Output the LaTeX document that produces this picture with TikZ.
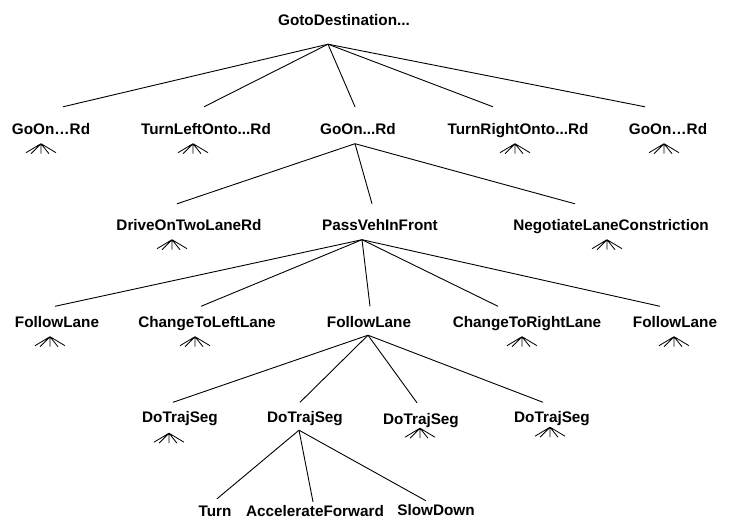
\documentclass[tikz,border=0pt]{standalone}
\usepackage{fontspec}
\setmainfont{Liberation Sans}
\usetikzlibrary{positioning}

\tikzset{
    task/.style={inner sep=0pt, text height=20pt, text depth=9pt, anchor=base,
        font=\fontsize{15.3}{18}\selectfont\bfseries},
    leaf/.style={task, text depth=0.5pt},
    link/.style={line width=0.9pt},
    fan/.pic={
        \draw[line width=0.8pt] (0,0) -- (-15,9) (0,0) -- (-10,10) (0,0) -- (0,10)
            (0,0) -- (8,10) (0,0) -- (15,9);
    }
}

\begin{document}
\begin{tikzpicture}[x=1pt, y=-1pt]
    \useasboundingbox (0,0) rectangle (730,519);

    % top goal
    \node[task] (goto) at (344,25.5) {GotoDestination...};

    % roads
    \node[task] (gon1) at (51,134.5)  {GoOn\ldots Rd};
    \node[task] (tlft) at (206,134.5) {TurnLeftOnto...Rd};
    \node[task] (gon2) at (358,134.5) {GoOn...Rd};
    \node[task] (trgt) at (518,134.5) {TurnRightOnto...Rd};
    \node[task] (gon3) at (668,134.5) {GoOn\ldots Rd};

    % behaviours on the road
    \node[task] (drive) at (189,230.5) {DriveOnTwoLaneRd};
    \node[task] (pass)  at (380,230.5) {PassVehInFront};
    \node[task] (nego)  at (611,230.5) {NegotiateLaneConstriction};

    % passing
    \node[task] (fol1) at (57,327.5)  {FollowLane};
    \node[task] (chl)  at (207,327.5) {ChangeToLeftLane};
    \node[task] (fol2) at (369,327.5) {FollowLane};
    \node[task] (chr)  at (527,327.5) {ChangeToRightLane};
    \node[task] (fol3) at (675,327.5) {FollowLane};

    % trajectory segments
    \node[task] (seg1) at (180,422.5) {DoTrajSeg};
    \node[task] (seg2) at (305,422.5) {DoTrajSeg};
    \node[task] (seg3) at (421,424.5) {DoTrajSeg};
    \node[task] (seg4) at (552,422.5) {DoTrajSeg};

    % actions
    \node[leaf] (turn) at (215,516.5) {Turn};
    \node[leaf] (accf) at (315,516.5) {AccelerateForward};
    \node[leaf] (slow) at (436,515.5) {SlowDown};

    \draw[link] ([xshift=-16pt,yshift=-9.5pt]goto.south) -- ([xshift=12pt,yshift=7.5pt]gon1.north);
    \draw[link] ([xshift=-16pt,yshift=-9.5pt]goto.south) -- ([xshift=-2pt,yshift=7.5pt]tlft.north);
    \draw[link] ([xshift=-16pt,yshift=-9.5pt]goto.south) -- ([xshift=-3pt,yshift=7.5pt]gon2.north);
    \draw[link] ([xshift=-16pt,yshift=-9.5pt]goto.south) -- ([xshift=-25pt,yshift=7.5pt]trgt.north);
    \draw[link] ([xshift=-16pt,yshift=-9.5pt]goto.south) -- ([xshift=-23pt,yshift=7.5pt]gon3.north);

    \draw[link] ([xshift=-3pt]gon2.south) -- ([xshift=-12pt,yshift=6.5pt]drive.north);
    \draw[link] ([xshift=-3pt]gon2.south) -- ([xshift=-8pt,yshift=6.5pt]pass.north);
    \draw[link] ([xshift=-3pt]gon2.south) -- ([xshift=-36pt,yshift=6.5pt]nego.north);

    \draw[link] ([xshift=-18pt]pass.south) -- ([xshift=-2pt,yshift=1pt]fol1.north);
    \draw[link] ([xshift=-18pt]pass.south) -- ([xshift=-6pt,yshift=1pt]chl.north);
    \draw[link] ([xshift=-18pt]pass.south) -- ([xshift=1pt,yshift=1pt]fol2.north);
    \draw[link] ([xshift=-18pt]pass.south) -- ([xshift=-29pt,yshift=1pt]chr.north);
    \draw[link] ([xshift=-18pt]pass.south) -- ([xshift=-15pt,yshift=1pt]fol3.north);

    \draw[link] ([xshift=-1pt,yshift=1.5pt]fol2.south) -- ([xshift=-7pt]seg1.north);
    \draw[link] ([xshift=-1pt,yshift=1.5pt]fol2.south) -- ([xshift=-5pt]seg2.north);
    \draw[link] ([xshift=-1pt,yshift=1.5pt]fol2.south) -- ([xshift=-4pt,yshift=1.5pt]seg3.north);
    \draw[link] ([xshift=-1pt,yshift=1.5pt]fol2.south) -- ([xshift=-9pt]seg4.north);

    \draw[link] ([xshift=-6pt,yshift=1.5pt]seg2.south) -- ([xshift=2pt,yshift=-2.5pt]turn.north);
    \draw[link] ([xshift=-6pt,yshift=1.5pt]seg2.south) -- ([xshift=-2pt,yshift=-5.5pt]accf.north);
    \draw[link] ([xshift=-6pt,yshift=1.5pt]seg2.south) -- ([xshift=-10pt,yshift=-5.5pt]slow.north);

    % unexpanded subtrees
    \pic at ([xshift=-10pt]gon1.south) {fan};
    \pic at ([xshift=-13pt]tlft.south) {fan};
    \pic at ([xshift=-3pt]trgt.south) {fan};
    \pic at ([xshift=-4pt]gon3.south) {fan};
    \pic at ([xshift=-17pt]drive.south) {fan};
    \pic at ([xshift=-4pt]nego.south) {fan};
    \pic at ([xshift=-7pt]fol1.south) {fan};
    \pic at ([xshift=-12pt]chl.south) {fan};
    \pic at ([xshift=-5pt]chr.south) {fan};
    \pic at ([xshift=-1pt]fol3.south) {fan};
    \pic at ([xshift=-11pt,yshift=-1.5pt]seg1.south) {fan};
    \pic at ([xshift=-1pt,yshift=5.5pt]seg3.south) {fan};
    \pic at ([xshift=-2pt,yshift=4.5pt]seg4.south) {fan};
\end{tikzpicture}
\end{document}
